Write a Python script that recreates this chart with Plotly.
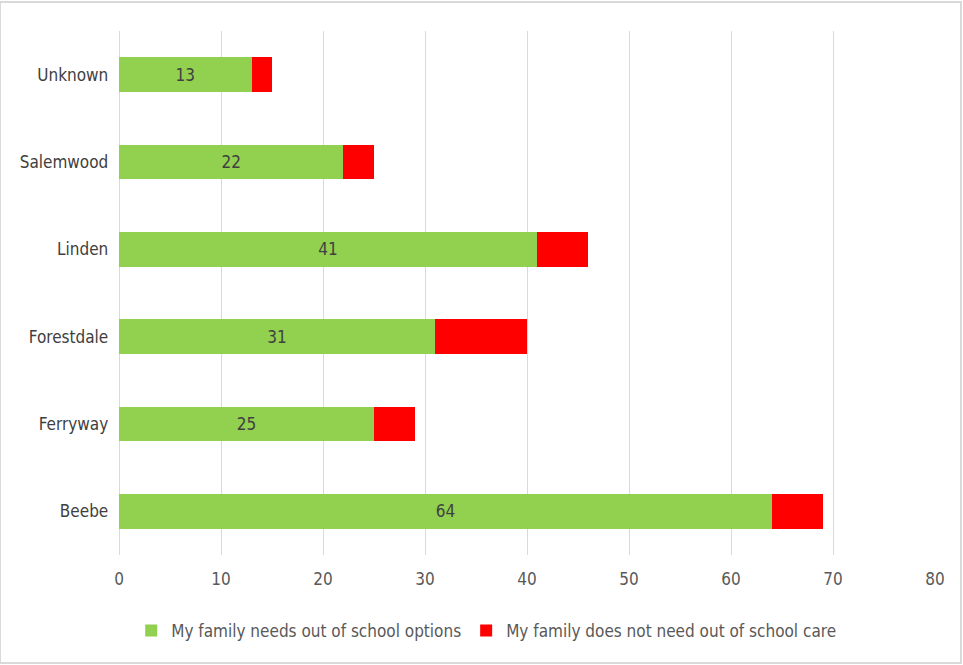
import plotly.graph_objects as go

categories = ["Beebe", "Ferryway", "Forestdale", "Linden", "Salemwood", "Unknown"]
needs = [64, 25, 31, 41, 22, 13]
not_needs = [5, 4, 9, 5, 3, 2]
series_names = ["My family needs out of school options", "My family does not need out of school care"]
x_ticks = [0, 10, 20, 30, 40, 50, 60, 70, 80]

FONT = "DejaVu Sans Condensed, Liberation Sans Narrow, Arial Narrow, sans-serif"

fig = go.Figure()
fig.add_trace(go.Bar(
    y=categories, x=needs, orientation="h", name=series_names[0],
    marker=dict(color="#92D050", line=dict(width=0)),
    text=[str(v) for v in needs], textposition="inside", insidetextanchor="middle",
    textfont=dict(family=FONT, size=17, color="#404040"), width=0.4,
))
fig.add_trace(go.Bar(
    y=categories, x=not_needs, orientation="h", name=series_names[1],
    marker=dict(color="#FF0000", line=dict(width=0)), width=0.4,
))

fig.update_layout(
    barmode="stack",
    width=963, height=665,
    margin=dict(l=119, r=28, t=31, b=110),
    paper_bgcolor="white", plot_bgcolor="white",
    font=dict(family=FONT, size=17, color="#595959"),
    xaxis=dict(range=[0, 80], tickvals=x_ticks, showgrid=True, gridcolor="#D9D9D9", gridwidth=1,
               zeroline=True, zerolinecolor="#D9D9D9", zerolinewidth=1, showline=False, ticks="", ticklen=0,
               ticklabelstandoff=12,
               tickfont=dict(size=17, color="#595959")),
    yaxis=dict(showgrid=False, ticks="", tickfont=dict(size=17, color="#404040"), ticksuffix="  "),
    legend=dict(orientation="h", x=0.45, xanchor="center", y=-0.145, yanchor="middle",
                font=dict(size=17, color="#595959"), traceorder="normal", itemwidth=30),
    uniformtext=dict(mode="show", minsize=10),
    shapes=[dict(type="rect", xref="paper", yref="paper", x0=-119/816, x1=1+26/816,
                 y0=-108/524, y1=1+29/524, line=dict(color="#D9D9D9", width=2))],
)

fig.write_html("out.html")
